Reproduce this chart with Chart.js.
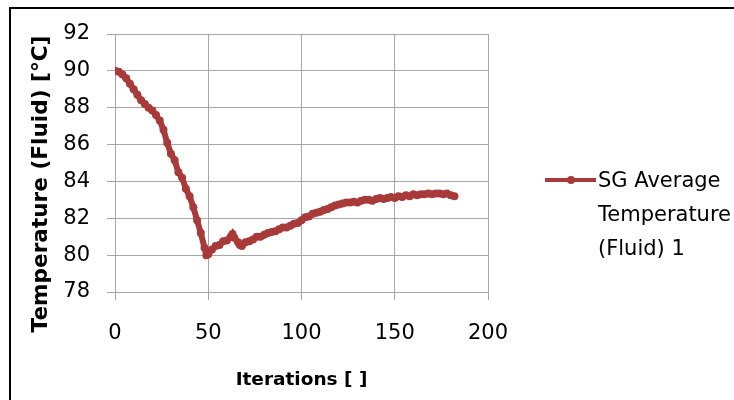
<!DOCTYPE html>
<html>
<head>
<meta charset="utf-8">
<script src="https://cdn.jsdelivr.net/npm/chart.js@4"></script>
<style>
  html, body { margin: 0; padding: 0; background: #fff; }
  #wrap { width: 734px; height: 400px; position: relative; }
</style>
</head>
<body>
<div id="wrap"><canvas id="chart"></canvas></div>
<script>
// values
const iterations = [0, 2, 4, 6, 8, 10, 12, 14, 16, 18, 20, 22, 24, 26, 28, 30, 32, 34, 36, 38,
  40, 42, 44, 46, 48, 49, 50, 52, 54, 56, 58, 60, 62, 63, 64, 66, 67, 68, 70, 72,
  74, 76, 78, 80, 82, 84, 86, 88, 90, 92, 94, 96, 98, 100, 102, 104, 106, 108, 110, 112,
  114, 116, 118, 120, 122, 124, 126, 128, 130, 132, 134, 136, 138, 140, 142, 144, 146, 148, 150, 152,
  154, 156, 158, 160, 162, 164, 166, 168, 170, 172, 174, 176, 178, 180, 182];
const temps = [90.0, 89.95, 89.8, 89.6, 89.3, 89.0, 88.7, 88.4, 88.2, 88.0, 87.85, 87.6, 87.3, 86.8, 86.1, 85.5, 85.15, 84.5, 84.2, 83.6,
  83.2, 82.6, 81.9, 81.2, 80.4, 80.0, 80.05, 80.3, 80.5, 80.55, 80.75, 80.8, 81.0, 81.15, 80.95, 80.7, 80.55, 80.5, 80.7, 80.75,
  80.85, 81.0, 81.0, 81.1, 81.2, 81.25, 81.3, 81.4, 81.5, 81.5, 81.6, 81.7, 81.75, 81.9, 82.05, 82.1, 82.25, 82.3, 82.35, 82.45,
  82.5, 82.6, 82.7, 82.75, 82.8, 82.85, 82.85, 82.9, 82.85, 82.95, 83.0, 83.0, 82.95, 83.05, 83.1, 83.05, 83.1, 83.15, 83.1, 83.2,
  83.15, 83.25, 83.2, 83.3, 83.25, 83.3, 83.3, 83.35, 83.3, 83.35, 83.35, 83.3, 83.35, 83.25, 83.2];
const xTicks = [0, 50, 100, 150, 200];
const yTicks = [78, 80, 82, 84, 86, 88, 90, 92];
const seriesName = ['SG Average', 'Temperature', '(Fluid) 1'];

const lineColor = '#a83a3a';
const gridColor = '#a6a6a6';

// black frame on the left and top edges
const framePlugin = {
  id: 'frame',
  beforeDraw(chart) {
    const ctx = chart.ctx;
    ctx.save();
    ctx.strokeStyle = '#000';
    ctx.lineWidth = 2;
    ctx.beginPath();
    ctx.moveTo(10, 400);
    ctx.lineTo(10, 8);
    ctx.lineTo(734, 8);
    ctx.stroke();
    ctx.restore();
  }
};

// y title drawn by hand so it can sit a bit lower than centre, plus the side legend
const extrasPlugin = {
  id: 'extras',
  afterDraw(chart) {
    const ctx = chart.ctx;
    ctx.save();
    ctx.fillStyle = '#000';
    ctx.font = 'bold 21.6px "DejaVu Sans"';
    ctx.textAlign = 'center';
    ctx.textBaseline = 'middle';
    ctx.translate(41, 184);
    ctx.rotate(-Math.PI / 2);
    ctx.fillText('Temperature (Fluid) [°C]', 0, 0);
    ctx.restore();

    ctx.save();
    ctx.strokeStyle = lineColor;
    ctx.lineWidth = 4;
    ctx.beginPath();
    ctx.moveTo(545, 180);
    ctx.lineTo(596, 180);
    ctx.stroke();
    ctx.fillStyle = lineColor;
    ctx.beginPath();
    ctx.arc(571, 180, 4, 0, Math.PI * 2);
    ctx.fill();
    ctx.fillStyle = '#000';
    ctx.font = '21px "DejaVu Sans"';
    ctx.textAlign = 'left';
    ctx.textBaseline = 'middle';
    seriesName.forEach((t, i) => ctx.fillText(t, 598, 182 + i * 34));
    ctx.restore();
  }
};

new Chart(document.getElementById('chart'), {
  type: 'line',
  data: {
    datasets: [{
      label: seriesName.join(' '),
      data: iterations.map((x, i) => ({ x: x, y: temps[i] })),
      borderColor: lineColor,
      backgroundColor: lineColor,
      borderWidth: 6,
      pointRadius: 4,
      pointHoverRadius: 4,
      pointBorderWidth: 0,
      tension: 0
    }]
  },
  options: {
    responsive: true,
    maintainAspectRatio: false,
    animation: false,
    layout: { padding: { left: 0, right: 246, top: 34, bottom: 0 } },
    plugins: {
      legend: { display: false },
      tooltip: { enabled: false }
    },
    scales: {
      x: {
        type: 'linear',
        min: 0,
        max: 200,
        afterBuildTicks: s => { s.ticks = xTicks.map(v => ({ value: v })); },
        afterFit: s => { s.height = 108; },
        ticks: { font: { family: 'DejaVu Sans', size: 21 }, color: '#000', padding: 21, maxRotation: 0 },
        grid: { color: gridColor, tickLength: 8, lineWidth: 1 },
        border: { color: gridColor },
        title: {
          display: true,
          text: 'Iterations [ ]',
          font: { family: 'DejaVu Sans', size: 18.5, weight: 'bold' },
          color: '#000',
          padding: { top: 0, bottom: 9 }
        }
      },
      y: {
        min: 78,
        max: 92,
        afterBuildTicks: s => { s.ticks = yTicks.map(v => ({ value: v })); },
        afterFit: s => { s.width = 115; },
        ticks: { font: { family: 'DejaVu Sans', size: 21 }, color: '#000', padding: 17 },
        grid: { color: gridColor, tickLength: 8, lineWidth: 1 },
        border: { color: gridColor }
      }
    }
  },
  plugins: [framePlugin, extrasPlugin]
});
</script>
</body>
</html>
